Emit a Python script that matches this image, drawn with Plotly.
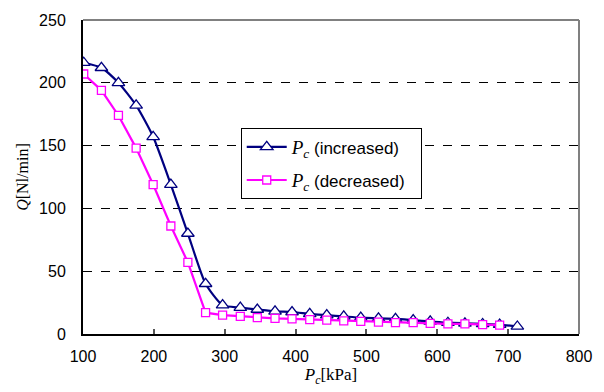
import plotly.graph_objects as go

# Supply pressure Pc [kPa] and flow rate Q [Nl/min]
pc_increased = [101, 126, 150, 175, 199, 224, 248, 273, 297, 322, 346, 371, 395,
                420, 444, 468, 492, 517, 541, 566, 590, 615, 639, 664, 688, 713]
q_increased = [216, 212, 200, 182, 157, 119, 80, 40, 23, 21, 19.5, 18, 17.5,
               16, 15, 14, 13, 12.5, 12, 11, 10, 9, 8.5, 8, 7.5, 6]

pc_decreased = [101, 126, 150, 175, 199, 224, 248, 273, 297, 322, 346, 371, 395,
                420, 444, 468, 492, 517, 541, 566, 590, 615, 639, 664, 688]
q_decreased = [207, 194, 174, 148, 119, 86, 57, 17, 15, 14, 13, 12.5, 12,
               11.5, 11, 10.5, 10, 9.5, 9, 9, 8.5, 8, 8, 7.5, 7]

x_ticks = [100, 200, 300, 400, 500, 600, 700, 800]
y_ticks = [0, 50, 100, 150, 200, 250]

serif = "Liberation Serif, Times New Roman, serif"
sans = "Liberation Sans, Arial, sans-serif"
pc_legend = (f"<span style='font-family:{serif};font-size:19px'>"
             "<i>P</i><sub><i>c</i></sub></span>")
pc_axis = f"<span style='font-family:{serif}'><i>P</i><sub><i>c</i></sub>[kPa]</span>"

fig = go.Figure()
fig.add_trace(go.Scatter(
    x=pc_increased, y=q_increased, mode="lines+markers",
    name=pc_legend + " (increased)&nbsp;&nbsp;", legendgroup="inc",
    line=dict(color="#000080", width=2.2, shape="spline", smoothing=0.6),
    marker=dict(symbol="triangle-up", size=11, color="white",
                line=dict(color="#000080", width=1.3)),
))
fig.add_trace(go.Scatter(
    x=pc_decreased, y=q_decreased, mode="lines+markers",
    name=pc_legend + " (decreased)&nbsp;&nbsp;", legendgroup="dec",
    line=dict(color="#FF00FF", width=2.2),
    marker=dict(symbol="square", size=8, color="white",
                line=dict(color="#FF00FF", width=1.3)),
))

fig.update_layout(
    width=604, height=392,
    margin=dict(l=83, r=21, t=16, b=58),
    paper_bgcolor="white", plot_bgcolor="white",
    font=dict(family=sans, size=16, color="black"),
    showlegend=True,
    legend=dict(
        x=0.318, y=0.655, xanchor="left", yanchor="top",
        bgcolor="white", bordercolor="black", borderwidth=1,
        font=dict(family=sans, size=17, color="black"),
        itemwidth=40, tracegroupgap=8,
    ),
)
fig.update_xaxes(
    range=[100, 800], tickvals=x_ticks, ticktext=[str(v) for v in x_ticks],
    showgrid=False, zeroline=False,
    showline=True, linecolor="black", linewidth=2,
    ticks="inside", ticklen=5, tickcolor="#555555", tickwidth=1.5,
    mirror=False, ticklabelstandoff=7,
    title=dict(text=pc_axis, font=dict(family=serif, size=17), standoff=2),
)
fig.update_yaxes(
    range=[0, 250], tickvals=y_ticks, ticktext=[str(v) for v in y_ticks],
    showgrid=True, gridcolor="black", griddash="dash", gridwidth=1,
    zeroline=False,
    showline=True, linecolor="black", linewidth=2,
    ticks="", ticklabelstandoff=12,
    title=dict(text="<i>Q</i>[Nl/min]", font=dict(family=serif, size=16), standoff=6),
)

# Grey frame along the top and right edges of the plot area
fig.add_shape(type="line", xref="paper", yref="paper", x0=0, x1=1, y0=1, y1=1,
              line=dict(color="#808080", width=2), layer="below")
fig.add_shape(type="line", xref="paper", yref="paper", x0=1, x1=1, y0=0, y1=1,
              line=dict(color="#808080", width=2), layer="below")

fig.write_html("out.html")
